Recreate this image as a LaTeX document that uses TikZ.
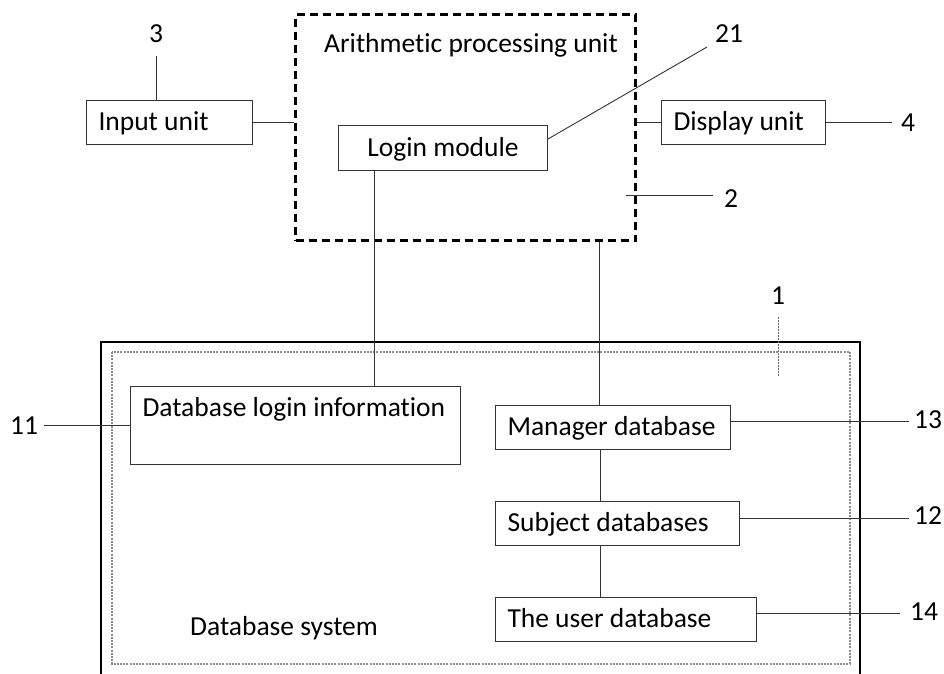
\documentclass[tikz,border=0pt]{standalone}
\usepackage{fontspec}
\setmainfont{Carlito}[Ligatures=NoCommon]
\begin{document}
\begin{tikzpicture}[x=1pt,y=-1pt,
  txt/.style={font=\fontsize{27.5}{32}\selectfont},
  box/.style={txt, draw=black!80, line width=1pt, anchor=north west, inner xsep=12pt, inner ysep=9pt,
    text height=21pt, text depth=5pt, align=flush left},
  lbl/.style={txt, anchor=base, inner sep=0pt},
  wire/.style={draw=black!80, line width=0.9pt},
  apubox/.style={draw=black, line width=3pt, dash pattern=on 8pt off 5pt, anchor=north west,
    minimum width=340pt, minimum height=226pt, inner sep=0pt},
  dbinner/.style={draw=black!45, line width=1.3pt, dash pattern=on 2pt off 1.2pt}
]
\useasboundingbox (0,0) rectangle (944,673);

% arithmetic processing unit
\node[apubox] (apu) at (294,13) {};
\node[lbl] (apulbl) at (471,52) {Arithmetic processing unit};
\node[box, text width=185pt, align=flush center, minimum height=45pt] (login) at (338,125) {Login module};

% input and display
\node[box, text width=142pt] (input) at (86,100) {Input unit};
\node[box, text width=140pt] (disp) at (661,100) {Display unit};

% database system
\draw[line width=2.2pt, black] (101,690) -- (101,342) -- (860,342) -- (860,690);
\draw[dbinner] (112,352) rectangle (850,664);
\node[lbl] (dbsys) at (284,635) {Database system};
\node[box, text width=306pt, text depth=39pt] (dblogin) at (130,386) {Database login information};
\node[box, text width=211pt] (mgr) at (495,405) {Manager database};
\node[box, text width=220pt] (subj) at (495,501) {Subject databases};
\node[box, text width=237pt] (user) at (495,597) {The user database};

% connectors
\draw[wire] (input.east) -- (apu.west |- input.east);
\draw[wire] (apu.east |- disp.west) -- (disp.west);
\draw[wire] ([xshift=36pt]login.south west) -- ([xshift=36pt]login.south west |- dblogin.north);
\draw[wire] ([xshift=104pt]mgr.north west |- apu.south) -- ([xshift=104pt]mgr.north west);
\draw[wire] ([xshift=105pt]mgr.south west) -- ([xshift=105pt]subj.north west);
\draw[wire] ([xshift=105pt]subj.south west) -- ([xshift=105pt]user.north west);

% reference numerals
\node[lbl] (n3) at (156,42) {3};
\node[lbl] (n21) at (729,42) {21};
\node[lbl] (n4) at (908,131) {4};
\node[lbl] (n2) at (731,207) {2};
\node[lbl] (n1) at (778,304) {1};
\node[lbl] (n11) at (24,434) {11};
\node[lbl] (n13) at (928,428) {13};
\node[lbl] (n12) at (928,524) {12};
\node[lbl] (n14) at (924,620) {14};

\coordinate (c3) at (156,56);
\coordinate (c21) at (707,47);
\coordinate (c2a) at (626,195);
\coordinate (c2b) at (713,195);
\coordinate (c1a) at (778,317);
\coordinate (c1b) at (778,377);

\draw[wire] (c3) -- (input.north -| c3);
\draw[wire] ([yshift=9pt]login.east) -- (c21);
\draw[wire] (disp.east) -- ++(66,0);
\draw[wire] (c2a) -- (c2b);
\draw[draw=black!60, line width=0.8pt, dash pattern=on 2pt off 1pt] (c1a) -- (c1b);
\draw[wire] (dblogin.west) -- ++(-86,0);
\draw[wire] ([yshift=6pt]mgr.east) -- ++(178,0);
\draw[wire] ([yshift=5pt]subj.east) -- ++(169,0);
\draw[wire] ([yshift=6pt]user.east) -- ++(143,0);
\end{tikzpicture}
\end{document}
